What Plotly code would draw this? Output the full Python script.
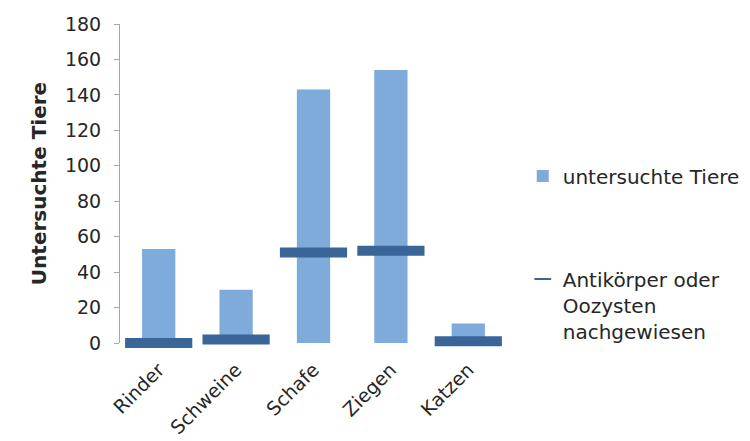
import plotly.graph_objects as go

# Tierarten und Untersuchungsergebnisse
tierarten = ["Rinder", "Schweine", "Schafe", "Ziegen", "Katzen"]
untersucht = [53, 30, 143, 154, 11]
nachgewiesen = [0, 2, 51, 52, 1]
y_ticks = [0, 20, 40, 60, 80, 100, 120, 140, 160, 180]

FONT = "DejaVu Sans"
TEXT_COLOR = "#262626"
BAR_COLOR = "#7FABDB"
MARK_COLOR = "#3A6598"

fig = go.Figure()

fig.add_trace(go.Bar(
    x=tierarten,
    y=untersucht,
    name="untersuchte Tiere",
    marker=dict(color=BAR_COLOR, line=dict(width=0)),
    width=0.43,
    legendgroup="a",
))

fig.add_trace(go.Scatter(
    x=tierarten,
    y=nachgewiesen,
    mode="markers",
    name="Antikörper oder<br>Oozysten<br>nachgewiesen",
    marker=dict(symbol="line-ew", size=48,
                color=MARK_COLOR,
                line=dict(color=MARK_COLOR, width=10)),
    cliponaxis=False,
    legendgroup="b",
))

fig.update_layout(
    width=750,
    height=441,
    margin=dict(l=120, r=243, t=24, b=98, autoexpand=False),
    paper_bgcolor="white",
    plot_bgcolor="white",
    font=dict(family=FONT, size=19, color=TEXT_COLOR),
    bargap=0.57,
    showlegend=True,
    legend=dict(
        xref="container", yref="container",
        x=0.697, y=0.645, xanchor="left", yanchor="top",
        font=dict(family=FONT, size=20, color=TEXT_COLOR),
        tracegroupgap=74,
        valign="top",
        itemsizing="constant",
        bgcolor="rgba(0,0,0,0)",
    ),
    xaxis=dict(
        type="category",
        range=[-0.5, len(tierarten) - 0.5],
        automargin=False,
        showline=False,
        ticks="",
        tickangle=-45,
        ticklabelstandoff=11,
        ticklabelshift=0,
        tickfont=dict(family=FONT, size=19, color=TEXT_COLOR),
        showgrid=False,
    ),
    yaxis=dict(
        range=[0, 180],
        automargin=False,
        tickvals=y_ticks,
        showgrid=False,
        showline=True,
        linecolor="#A6A6A6",
        linewidth=1,
        ticks="outside",
        ticklen=5,
        tickcolor="#A6A6A6",
        ticklabelstandoff=9,
        tickfont=dict(family=FONT, size=19, color=TEXT_COLOR),
        zeroline=False,
        title=dict(text="<b>Untersuchte Tiere</b>",
                   font=dict(family=FONT, size=20, color=TEXT_COLOR),
                   standoff=12),
    ),
)

fig.write_html("out.html")
